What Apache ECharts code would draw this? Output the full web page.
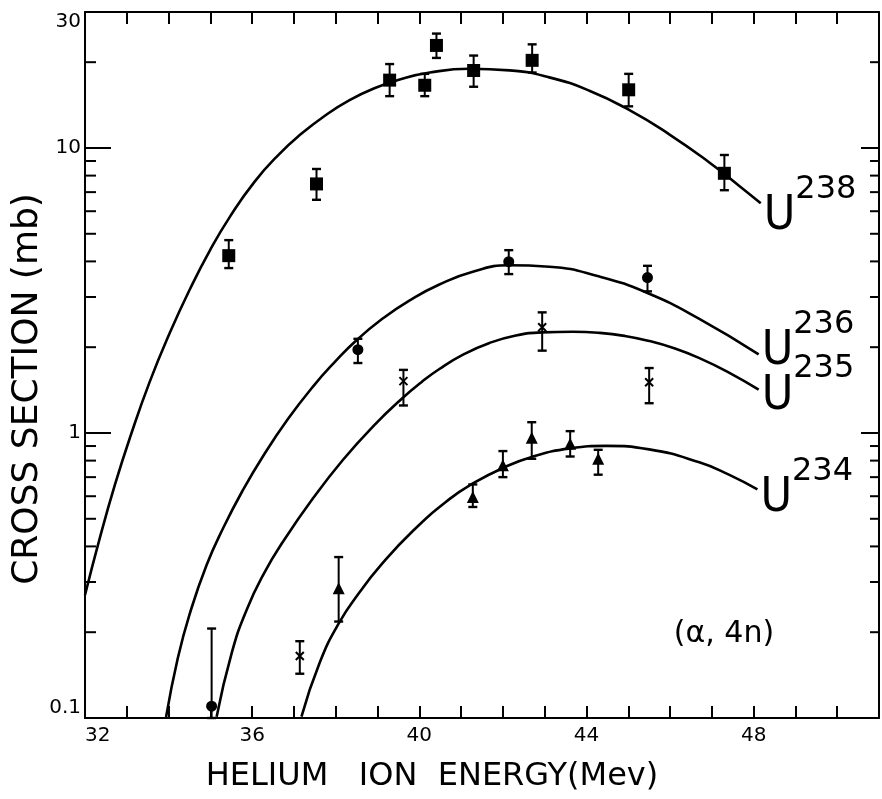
<!DOCTYPE html>
<html>
<head>
<meta charset="utf-8">
<script src="https://cdn.jsdelivr.net/npm/echarts@6/dist/echarts.min.js"></script>
<style>
  html, body { margin: 0; padding: 0; background: #fff; }
  #chart { width: 882px; height: 799px; }
</style>
</head>
<body>
<div id="chart"></div>
<script>
// Axis ranges: helium ion energy (MeV) and (alpha,4n) cross section (mb)
const energyMin = 32, energyMax = 51;
const sigmaMin = 0.1, sigmaMax = 30;
const energyLabels = [32, 36, 40, 44, 48];
const sigmaTicks = [0.2, 0.3, 0.4, 0.5, 0.6, 0.7, 0.8, 0.9, 1,
                    2, 3, 4, 5, 6, 7, 8, 9, 10, 20];

// Target isotopes (mass numbers shown as labels)
const isotopes = ['238', '236', '235', '234'];

// Measured cross sections with error bar limits
const u238Energy = [35.44, 37.54, 39.29, 40.13, 40.41, 41.30, 42.70, 45.01, 47.30];
const u238Sigma  = [4.19, 7.48, 17.3, 16.6, 22.9, 18.7, 20.3, 16.0, 8.15];
const u238High   = [4.75, 8.44, 19.7, 18.2, 25.2, 21.1, 23.1, 18.2, 9.45];
const u238Low    = [3.79, 6.58, 15.2, 15.2, 20.7, 16.4, 18.4, 14.0, 7.11];

const u236Energy = [35.03, 38.53, 42.14, 45.46];
const u236Sigma  = [0.11, 1.96, 3.99, 3.51];
const u236High   = [0.206, 2.14, 4.38, 3.86];
const u236Low    = [0.1, 1.76, 3.61, 3.14];

const u235Energy = [37.14, 39.62, 42.94, 45.50];
const u235Sigma  = [0.165, 1.52, 2.35, 1.507];
const u235High   = [0.186, 1.665, 2.65, 1.69];
const u235Low    = [0.143, 1.249, 1.945, 1.272];

const u234Energy = [38.07, 41.28, 42.00, 42.69, 43.61, 44.28];
const u234Sigma  = [0.285, 0.596, 0.77, 0.962, 0.917, 0.812];
const u234High   = [0.367, 0.660, 0.864, 1.091, 1.015, 0.873];
const u234Low    = [0.218, 0.550, 0.700, 0.812, 0.827, 0.714];

// Smooth excitation functions drawn through the data
const u238CurveEnergy = [32.00, 32.36, 32.72, 33.08, 33.55, 34.03, 34.51, 34.99, 35.47, 36.06,
                         36.66, 37.14, 37.74, 38.33, 38.93, 39.53, 40.25, 41.20, 42.16, 43.11,
                         44.07, 45.03, 45.98, 46.94, 47.65, 48.17];
const u238CurveSigma  = [0.270, 0.431, 0.661, 0.967, 1.514, 2.247, 3.194, 4.375, 5.745, 7.621,
                         9.559, 11.10, 12.98, 14.72, 16.21, 17.39, 18.39, 18.96, 18.72, 17.69,
                         15.88, 13.58, 11.17, 8.897, 7.373, 6.397];

const u236CurveEnergy = [33.94, 34.22, 34.51, 34.91, 35.31, 35.78, 36.26, 36.86, 37.46, 37.98,
                         38.49, 39.13, 39.77, 40.48, 41.28, 42.14, 43.11, 44.31, 45.46, 46.69,
                         48.12];
const u236CurveSigma  = [0.1008, 0.162, 0.233, 0.344, 0.465, 0.631, 0.829, 1.121, 1.458, 1.776,
                         2.112, 2.526, 2.922, 3.320, 3.679, 3.876, 3.833, 3.539, 3.098, 2.520,
                         1.887];

const u235CurveEnergy = [35.15, 35.51, 35.87, 36.30, 36.74, 37.46, 38.17, 38.90, 39.62, 40.05,
                         40.48, 41.08, 41.68, 42.31, 42.94, 43.67, 44.31, 44.91, 45.50, 46.10,
                         46.69, 47.41, 48.12];
const u235CurveSigma  = [0.1011, 0.169, 0.240, 0.325, 0.416, 0.591, 0.804, 1.057, 1.335, 1.507,
                         1.677, 1.894, 2.070, 2.198, 2.255, 2.266, 2.246, 2.192, 2.104, 1.982,
                         1.834, 1.629, 1.419];

const u234CurveEnergy = [37.18, 37.62, 38.09, 38.57, 39.05, 39.85, 40.72, 41.28, 42.00, 42.69,
                         43.61, 44.47, 45.50, 46.70, 47.42, 48.09];
const u234CurveSigma  = [0.1011, 0.157, 0.217, 0.276, 0.340, 0.454, 0.586, 0.665, 0.754, 0.824,
                         0.883, 0.901, 0.876, 0.789, 0.713, 0.634];

const FONT = '"DejaVu Sans", "Liberation Sans", sans-serif';
const NARROW = '"DejaVu Sans Condensed", "Liberation Sans Narrow", "DejaVu Sans", sans-serif';
const INK = '#000';

const zip = (a, b) => a.map((v, i) => [v, b[i]]);
const zip3 = (a, b, c) => a.map((v, i) => [v, b[i], c[i]]);

// Vertical nudges of the isotope labels relative to each curve end (px)
const labelShift = [4, -12, -3, 0];

function curveSeries(energy, sigma, idx) {
  return {
    type: 'line',
    name: 'U' + isotopes[idx],
    data: zip(energy, sigma),
    smooth: 0.5,
    showSymbol: false,
    silent: true,
    z: 3,
    lineStyle: { color: INK, width: 2.6 },
    endLabel: {
      show: true,
      distance: 3,
      offset: [0, labelShift[idx]],
      formatter: () => '{u|U}{s|' + isotopes[idx] + '}',
      rich: {
        u: { fontFamily: NARROW, fontSize: 48, color: INK, lineHeight: 67, verticalAlign: 'bottom' },
        s: { fontFamily: FONT, fontSize: 32, color: INK, lineHeight: 34, verticalAlign: 'top' }
      }
    }
  };
}

function pointSeries(energy, sigma, symbol, size, hollow) {
  return {
    type: 'scatter',
    data: zip(energy, sigma),
    symbol: symbol,
    symbolSize: size,
    silent: true,
    z: 5,
    itemStyle: hollow
      ? { color: 'rgba(0,0,0,0)', borderColor: INK, borderWidth: 2, opacity: 1 }
      : { color: INK, opacity: 1 }
  };
}

function errorSeries(energy, low, high) {
  return {
    type: 'custom',
    data: zip3(energy, low, high),
    silent: true,
    z: 4,
    renderItem(params, api) {
      const lo = api.coord([api.value(0), api.value(1)]);
      const hi = api.coord([api.value(0), api.value(2)]);
      const cap = 4.5;
      const bar = { stroke: INK, lineWidth: 2 };
      const capStyle = { stroke: INK, lineWidth: 2.4 };
      return {
        type: 'group',
        children: [
          { type: 'line', shape: { x1: lo[0], y1: lo[1], x2: hi[0], y2: hi[1] }, style: bar },
          { type: 'line', shape: { x1: hi[0] - cap, y1: hi[1], x2: hi[0] + cap, y2: hi[1] }, style: capStyle },
          { type: 'line', shape: { x1: lo[0] - cap, y1: lo[1], x2: lo[0] + cap, y2: lo[1] }, style: capStyle }
        ]
      };
    }
  };
}

// Inward ticks on the left and right log axes (long ones at each decade)
const tickSeries = {
  type: 'custom',
  data: sigmaTicks.map(v => [energyMin, v]),
  silent: true,
  z: 2,
  clip: false,
  renderItem(params, api) {
    const v = api.value(1);
    const l = api.coord([energyMin, v]);
    const r = api.coord([energyMax, v]);
    const lg = Math.log10(v);
    const decade = Math.abs(lg - Math.round(lg)) < 1e-6;
    const lenL = decade ? 26 : 11;
    const lenR = decade ? 18 : 9;
    const st = { stroke: INK, lineWidth: 2 };
    return {
      type: 'group',
      children: [
        { type: 'line', shape: { x1: l[0], y1: l[1], x2: l[0] + lenL, y2: l[1] }, style: st },
        { type: 'line', shape: { x1: r[0] - lenR, y1: r[1], x2: r[0], y2: r[1] }, style: st }
      ]
    };
  }
};

const axisLineStyle = { lineStyle: { color: INK, width: 2 } };

const option = {
  animation: false,
  backgroundColor: '#fff',
  grid: { left: 85, right: 2, top: 12, bottom: 81, containLabel: false },
  xAxis: [
    {
      type: 'value', position: 'bottom', min: energyMin, max: energyMax, interval: 1,
      axisLine: axisLineStyle,
      axisTick: { inside: true, length: 12, lineStyle: { color: INK, width: 2 } },
      splitLine: { show: false },
      axisLabel: {
        color: INK, fontFamily: FONT, fontSize: 20, margin: 8,
        alignMinLabel: 'left',
        formatter: v => (energyLabels.includes(v) ? String(v) : '')
      }
    },
    {
      type: 'value', position: 'top', min: energyMin, max: energyMax, interval: 1,
      axisLine: axisLineStyle,
      axisTick: { inside: true, length: 12, lineStyle: { color: INK, width: 2 } },
      splitLine: { show: false },
      axisLabel: { show: false }
    }
  ],
  yAxis: [
    {
      type: 'log', logBase: 10, position: 'left', min: sigmaMin, max: sigmaMax,
      axisLine: axisLineStyle,
      axisTick: { show: false },
      minorTick: { show: false },
      splitLine: { show: false },
      axisLabel: {
        color: INK, fontFamily: FONT, fontSize: 20, margin: 4,
        verticalAlignMinLabel: 'bottom',
        verticalAlignMaxLabel: 'top',
        formatter: v => String(+Number(v).toPrecision(3))
      }
    },
    {
      type: 'log', logBase: 10, position: 'right', min: sigmaMin, max: sigmaMax,
      axisLine: axisLineStyle,
      axisTick: { show: false },
      splitLine: { show: false },
      axisLabel: { show: false }
    }
  ],
  graphic: [
    {
      type: 'text', x: 28, y: 389, rotation: Math.PI / 2,
      style: { text: 'CROSS SECTION (mb)', font: '36px ' + FONT, fill: INK, align: 'center', verticalAlign: 'middle' }
    },
    {
      type: 'text', x: 432, y: 777,
      style: { text: 'HELIUM   ION  ENERGY(Mev)', font: '32px ' + FONT, fill: INK, align: 'center', verticalAlign: 'middle' }
    },
    {
      type: 'text', x: 724, y: 634,
      style: { text: '(α, 4n)', font: '30px ' + FONT, fill: INK, align: 'center', verticalAlign: 'middle' }
    }
  ],
  series: [
    tickSeries,
    curveSeries(u238CurveEnergy, u238CurveSigma, 0),
    curveSeries(u236CurveEnergy, u236CurveSigma, 1),
    curveSeries(u235CurveEnergy, u235CurveSigma, 2),
    curveSeries(u234CurveEnergy, u234CurveSigma, 3),
    errorSeries(u238Energy, u238Low, u238High),
    errorSeries(u236Energy, u236Low, u236High),
    errorSeries(u235Energy, u235Low, u235High),
    errorSeries(u234Energy, u234Low, u234High),
    pointSeries(u238Energy, u238Sigma, 'rect', 13, false),
    pointSeries(u236Energy, u236Sigma, 'circle', 11, false),
    pointSeries(u235Energy, u235Sigma, 'path://M0,0L10,10M10,0L0,10', 8, true),
    pointSeries(u234Energy, u234Sigma, 'triangle', 12, false)
  ]
};

const chart = echarts.init(document.getElementById('chart'), null, { renderer: 'canvas' });
chart.setOption(option);
</script>
</body>
</html>
